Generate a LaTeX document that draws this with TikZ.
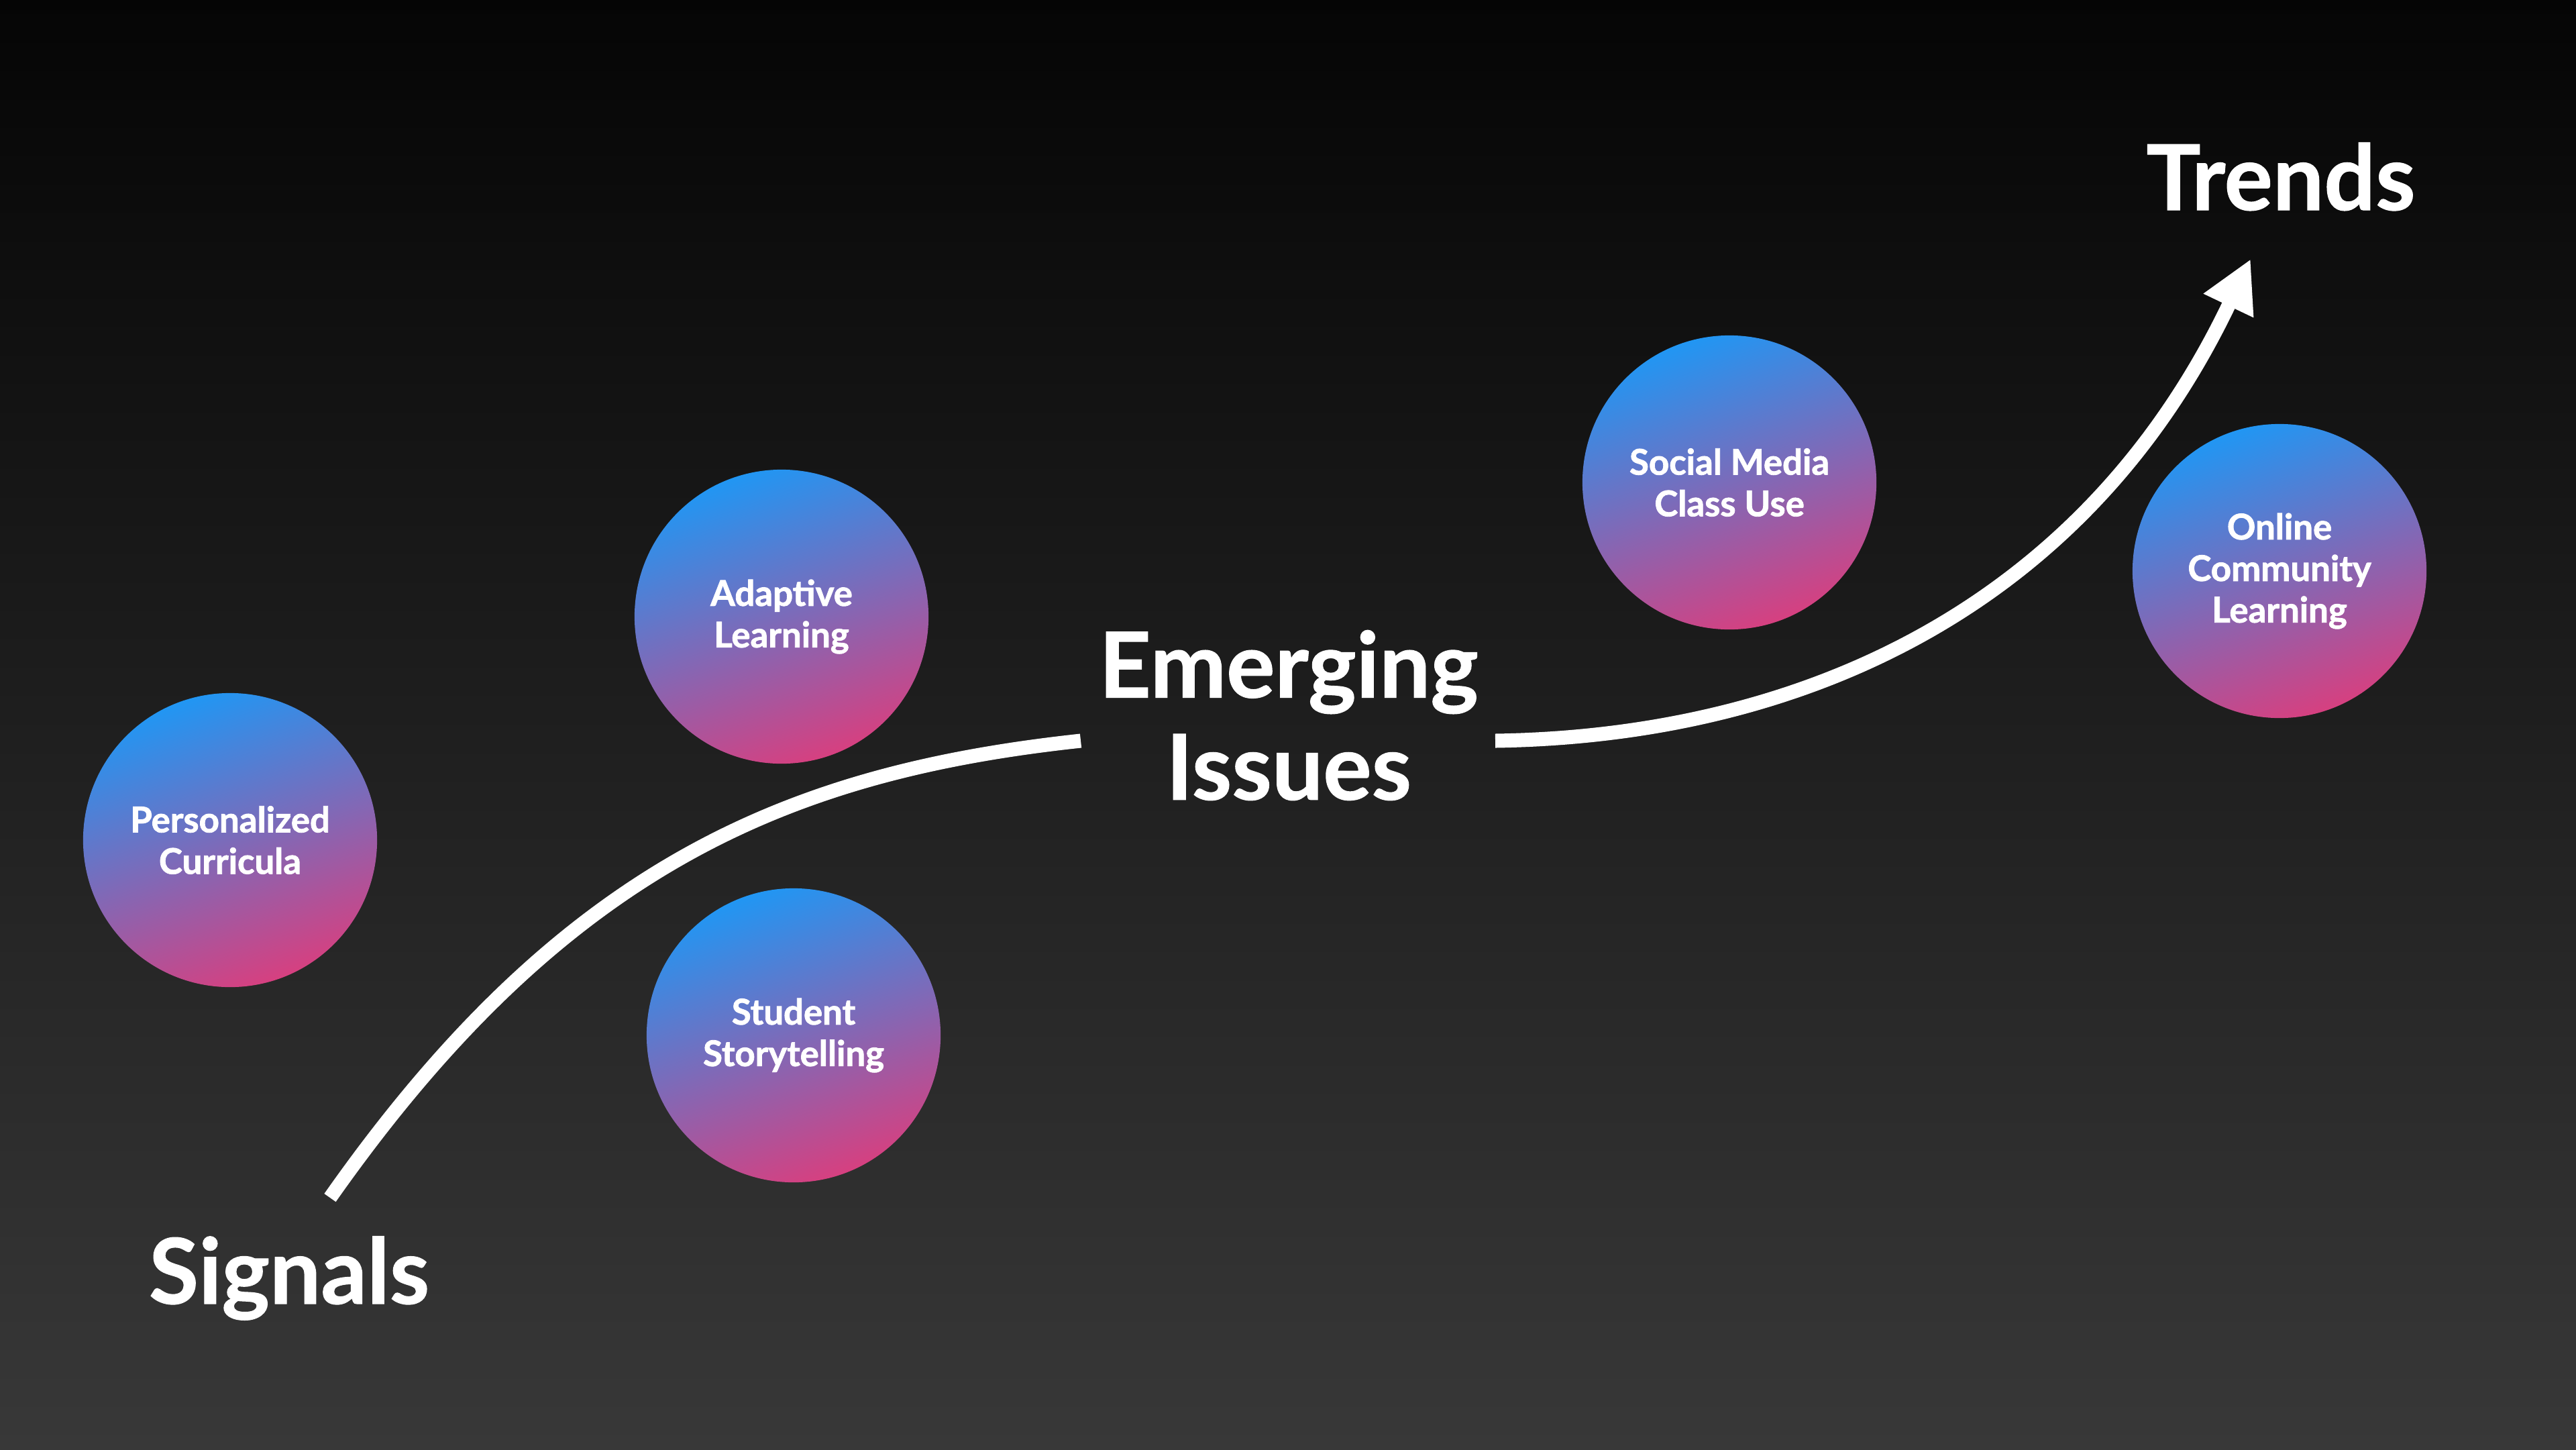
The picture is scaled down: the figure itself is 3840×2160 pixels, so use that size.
\documentclass[tikz,border=0pt]{standalone}
\usepackage{fontspec}
\setmainfont{Lato}
\newfontfamily\circfont{Lato}[BoldFeatures={FakeBold=1.6}]
\newfontfamily\bigfont{Lato}[BoldFeatures={FakeBold=0.8}]
\usetikzlibrary{arrows.meta}
\definecolor{bgtop}{RGB}{5,5,5}
\definecolor{bgbot}{RGB}{56,56,56}
\definecolor{cblue}{RGB}{33,150,243}
\definecolor{cpink}{RGB}{214,64,128}
\tikzset{
  bubble/.style={circle, minimum size=4.38cm, inner sep=0pt, align=center,
    text=white, font=\circfont\bfseries\fontsize{15}{17.6}\selectfont,
    top color=cblue, bottom color=cpink, shading angle=20},
  biglabel/.style={text=white, align=center, inner sep=0pt,
    font=\bigfont\bfseries\fontsize{38.5}{43.3}\selectfont},
  flow/.style={white, line width=0.21cm},
  flowtip/.style={flow, -{Triangle[length=0.77cm,width=0.77cm]}}
}
\begin{document}
\begin{tikzpicture}[x=0.01cm,y=-0.01cm]
\useasboundingbox (0,0) rectangle (3840,2160);
\shade[top color=bgtop, bottom color=bgbot] (0,0) rectangle (3840,2160);

\node[bubble] (pc) at (343,1252) {Personalized\\Curricula};
\node[bubble] (al) at (1165,919) {Adaptive\\Learning};
\node[bubble] (ss) at (1183,1543) {Student\\Storytelling};
\node[bubble] (sm) at (2578,719) {Social Media\\Class Use};
\node[bubble] (oc) at (3398,851) {Online\\Community\\Learning};

\node[biglabel, anchor=base] (tr) at (3400,313) {Trends};
\node[biglabel, anchor=base] (sg) at (431,1943) {Signals};
\node[biglabel] (ei) at (1921,1066) {Emerging\\Issues};

\coordinate (s0) at (492,1785);
\coordinate (s1) at (1611,1104);
\coordinate (e0) at (2229,1104);
\coordinate (e1) at (3355,386);

\draw[flow] (s0) .. controls (840,1290) and (1176,1151) .. (s1);
\draw[flowtip] (e0) .. controls (2694,1097) and (3110,900) .. (e1);
\end{tikzpicture}
\end{document}
